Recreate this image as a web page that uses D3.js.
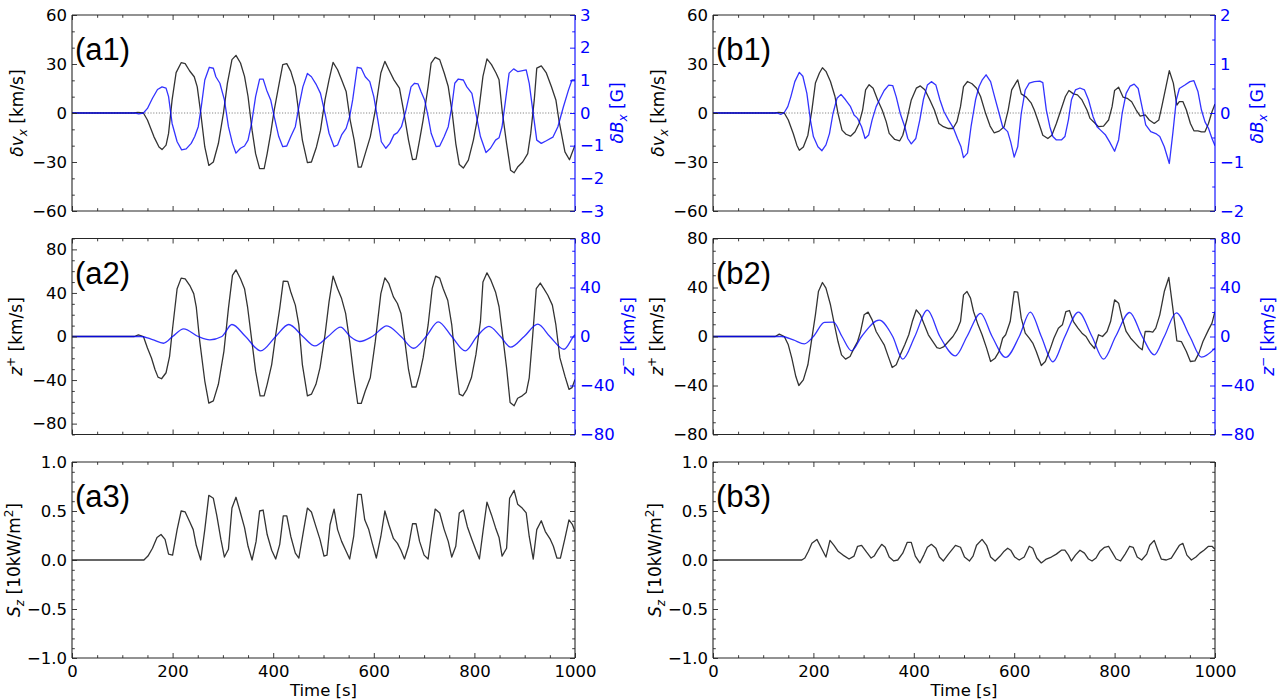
<!DOCTYPE html>
<html><head><meta charset="utf-8">
<script src="https://cdn.jsdelivr.net/npm/d3@7"></script>
<style>
html,body{margin:0;padding:0;background:#fff;}
svg{display:block;}
</style></head>
<body>
<svg id="chart" width="1280" height="700" font-family="DejaVu Sans, sans-serif"></svg>
<script>
// ---------------- DATA (time [s], value) ----------------
const xTicks = [0, 200, 400, 600, 800, 1000];

const a1_dvx = [[0,0],[123,0],[131,0.4],[142,0],[150,-4.3],[163,-14.6],[173,-20.8],[179,-22.4],[187,-19.7],[192,-12.5],[199,8.0],[207,24.7],[217,30.8],[225,30.2],[234,25.7],[243,22.2],[249,16.0],[256,-0.2],[264,-20.8],[272,-32.1],[281,-30.0],[291,-18.7],[301,-0.2],[309,18.3],[318,32.7],[326,35.3],[335,30.6],[343,22.4],[350,10.1],[358,-10.5],[365,-24.9],[373,-34.1],[382,-34.1],[388,-24.9],[395,-12.5],[402,1.8],[412,18.3],[419,29.6],[427,30.2],[435,25.5],[444,16.2],[451,-0.2],[458,-16.6],[468,-30.4],[476,-30.0],[486,-20.8],[494,-10.5],[503,8.0],[511,20.3],[519,31.0],[528,26.5],[536,20.3],[545,13.2],[553,-4.3],[561,-16.6],[569,-33.1],[575,-33.1],[583,-24.9],[593,-14.6],[603,1.8],[614,24.5],[622,31.6],[630,26.5],[640,20.3],[651,15.2],[659,1.8],[669,-16.6],[677,-28.6],[684,-28.2],[691,-16.6],[698,-4.3],[708,16.2],[714,30.6],[722,34.1],[731,32.7],[740,24.5],[748,16.2],[756,-0.2],[763,-18.7],[770,-31.6],[778,-33.7],[788,-28.9],[798,-16.6],[808,-0.2],[817,22.4],[825,33.1],[834,29.6],[843,24.5],[849,20.3],[855,1.8],[864,-18.7],[872,-35.1],[879,-36.6],[886,-33.1],[896,-30.0],[906,-24.9],[912,-12.5],[919,8.0],[924,27.5],[933,28.9],[943,24.5],[953,16.2],[962,8.0],[968,-4.3],[980,-23.8],[989,-28.6],[1000,-19.7]];

const a1_dBx = [[0,0],[125,0],[133,-0.03],[142,0],[150,0.14],[160,0.45],[170,0.72],[179,0.80],[187,0.76],[192,0.50],[199,-0.32],[209,-0.88],[218,-1.13],[227,-1.10],[237,-0.93],[244,-0.72],[251,-0.42],[257,0.19],[264,1.01],[273,1.40],[281,1.37],[286,1.11],[294,0.91],[303,0.40],[311,-0.42],[319,-0.93],[326,-1.23],[335,-1.08],[343,-1.01],[350,-0.83],[357,-0.32],[365,0.50],[373,1.04],[380,1.04],[387,0.70],[395,0.40],[402,-0.11],[411,-0.72],[419,-1.03],[427,-1.01],[435,-0.72],[444,-0.42],[451,0.19],[459,0.80],[468,1.21],[476,1.11],[486,0.86],[494,0.60],[503,-0.01],[511,-0.62],[521,-1.03],[528,-0.98],[536,-0.67],[545,-0.47],[552,-0.11],[558,0.40],[567,1.40],[575,1.37],[583,1.11],[592,0.96],[600,0.50],[608,-0.21],[615,-0.88],[624,-1.08],[632,-0.93],[640,-0.67],[647,-0.60],[655,-0.42],[664,0.09],[674,0.80],[681,0.91],[688,0.89],[694,0.65],[701,0.40],[708,-0.11],[714,-0.62],[724,-1.03],[731,-1.01],[740,-0.72],[748,-0.42],[755,0.19],[761,0.91],[768,1.04],[778,1.01],[785,0.80],[795,0.60],[803,-0.01],[812,-0.72],[823,-1.21],[832,-1.08],[842,-0.83],[849,-0.76],[855,-0.42],[862,0.40],[869,1.22],[878,1.35],[886,1.27],[896,1.30],[903,1.32],[909,0.91],[916,0.09],[924,-0.83],[933,-0.93],[943,-0.85],[956,-0.74],[966,-0.42],[977,0.19],[987,0.70],[994,1.01],[1000,1.01]];

const b1_dvx = [[0,0],[123,0],[131,0.4],[142,0],[150,-4.3],[160,-12.7],[167,-19.7],[172,-22.8],[180,-20.8],[189,-13.6],[197,1.8],[204,18.3],[212,24.5],[218,27.7],[225,25.5],[234,19.3],[243,10.1],[249,-0.2],[257,-10.5],[265,-13.0],[274,-14.2],[283,-11.5],[291,-6.4],[298,1.8],[304,14.2],[311,17.3],[319,15.2],[328,8.0],[337,1.8],[345,-5.3],[351,-12.5],[362,-16.2],[372,-17.0],[378,-13.6],[386,-4.3],[395,8.0],[405,15.2],[413,16.6],[422,14.2],[432,8.0],[441,1.8],[450,-6.4],[459,-8.4],[469,-9.5],[478,-9.5],[486,-5.3],[493,3.9],[499,16.2],[507,19.3],[516,17.9],[525,15.2],[533,10.1],[543,-0.2],[552,-8.0],[560,-12.1],[570,-11.1],[580,-8.4],[588,1.8],[595,14.2],[603,18.3],[607,20.3],[614,11.7],[624,9.7],[634,6.0],[640,1.8],[647,-4.3],[657,-13.6],[667,-15.6],[675,-13.6],[684,-6.4],[693,1.8],[702,10.1],[709,13.8],[718,11.7],[726,11.1],[735,8.0],[745,1.8],[751,-3.3],[760,-6.0],[768,-8.4],[778,-8.0],[788,-4.3],[795,3.9],[800,13.8],[808,15.8],[817,9.7],[825,9.0],[834,6.9],[843,1.8],[851,-1.9],[861,-1.2],[869,-4.3],[879,-6.4],[888,-4.3],[894,3.9],[901,14.2],[909,25.9],[917,18.3],[924,4.9],[929,7.0],[936,7.0],[943,1.8],[951,-6.4],[958,-10.9],[966,-10.9],[973,-11.5],[980,-11.5],[987,-6.4],[994,0.8],[1000,5.5]];

const b1_dBx = [[0,0],[128,0],[135,-0.03],[142,0.01],[149,0.13],[155,0.33],[163,0.64],[172,0.83],[179,0.75],[187,0.40],[194,-0.14],[200,-0.48],[209,-0.69],[217,-0.77],[225,-0.65],[232,-0.42],[239,-0.01],[247,0.30],[255,0.38],[264,0.27],[274,0.13],[281,-0.04],[288,-0.11],[296,-0.28],[303,-0.52],[310,-0.45],[317,-0.14],[325,0.13],[333,0.30],[341,0.46],[350,0.57],[358,0.56],[365,0.33],[373,-0.01],[382,-0.28],[388,-0.52],[395,-0.63],[404,-0.52],[412,-0.14],[419,0.27],[427,0.57],[435,0.64],[444,0.57],[452,0.27],[460,0.03],[469,-0.14],[479,-0.31],[487,-0.52],[494,-0.69],[499,-0.91],[507,-0.82],[514,-0.28],[523,0.27],[530,0.54],[536,0.67],[544,0.78],[553,0.64],[561,0.33],[570,-0.01],[577,-0.28],[587,-0.38],[593,-0.59],[600,-0.90],[607,-0.69],[614,-0.01],[622,0.47],[630,0.61],[640,0.64],[651,0.65],[657,0.62],[664,0.06],[671,-0.28],[677,-0.48],[684,-0.55],[694,-0.55],[701,-0.48],[708,-0.14],[714,0.27],[722,0.47],[731,0.51],[740,0.47],[748,0.27],[757,-0.07],[765,-0.28],[772,-0.35],[782,-0.45],[790,-0.59],[800,-0.78],[808,-0.55],[815,-0.01],[823,0.40],[831,0.55],[839,0.59],[847,0.50],[856,0.06],[862,-0.24],[872,-0.38],[882,-0.42],[890,-0.48],[899,-0.69],[909,-1.03],[916,-0.41],[923,0.27],[929,0.50],[940,0.57],[950,0.64],[958,0.66],[966,0.44],[973,0.06],[980,-0.18],[987,-0.31],[994,-0.52],[1000,-0.67]];

const a2_zp = [[0,0],[124,0],[132,1.5],[142,0],[150,-10.6],[158,-19.7],[165,-30.3],[171,-37.3],[178,-38.8],[187,-33.3],[194,-18.2],[200,7.6],[209,43.9],[217,53.6],[225,53.0],[234,47.0],[242,39.4],[247,27.3],[254,-4.5],[264,-40.9],[272,-61.2],[281,-59.1],[291,-43.9],[302,-13.6],[311,25.8],[319,56.1],[326,61.2],[335,53.0],[343,43.9],[349,27.3],[356,1.5],[365,-31.8],[374,-54.5],[382,-54.5],[388,-43.9],[397,-25.8],[405,1.5],[413,25.8],[420,50.9],[429,50.6],[435,40.9],[444,28.8],[451,10.6],[458,-25.8],[468,-54.5],[476,-53.0],[485,-43.9],[493,-28.8],[503,1.5],[511,31.8],[519,55.5],[528,43.9],[536,34.8],[544,21.2],[552,-4.5],[560,-34.8],[568,-61.5],[575,-61.5],[583,-50.0],[593,-37.9],[603,-4.5],[614,39.4],[622,53.9],[630,48.5],[639,36.4],[647,30.3],[654,21.2],[661,-1.5],[669,-30.3],[676,-46.4],[684,-46.4],[691,-34.8],[698,-19.7],[708,10.6],[716,43.9],[723,55.5],[731,53.6],[738,43.9],[747,33.3],[755,10.6],[763,-25.8],[770,-53.0],[777,-54.5],[785,-48.5],[794,-37.9],[803,-16.7],[812,13.6],[817,50.0],[825,58.5],[833,51.5],[842,40.9],[849,27.3],[856,1.5],[864,-28.8],[871,-60.6],[879,-63.6],[886,-56.7],[895,-54.5],[903,-51.5],[909,-37.9],[916,1.5],[923,43.9],[931,49.1],[938,43.9],[946,37.9],[955,28.8],[962,10.6],[970,-19.7],[980,-36.4],[988,-48.5],[994,-47.0],[1000,-39.4]];

const a2_zm = [[0,0],[137,0],[160,-2.5],[182,-5.5],[200,0],[222,6.3],[251,0],[274,-2.7],[298,0],[318,9.8],[345,0],[375,-11.7],[405,0],[431,9.8],[459,0],[483,-7.7],[509,0],[534,7.7],[553,0],[572,-4.1],[597,0],[626,8.7],[654,0],[679,-9.6],[704,0],[728,12.0],[755,0],[782,-11.7],[805,0],[829,8.2],[852,0],[872,-8.7],[899,0],[926,10.1],[950,0],[978,-10.4],[997,0],[1000,1.4]];

const b2_zp = [[0,0],[124,0],[132,1.9],[142,0],[150,-6.8],[157,-17.7],[165,-32.7],[171,-40.0],[180,-35.4],[189,-23.1],[197,-1.4],[204,17.7],[210,36.7],[218,44.1],[225,39.5],[234,25.9],[242,9.5],[249,-4.1],[256,-15.0],[264,-18.5],[273,-16.3],[281,-9.5],[288,-4.1],[294,4.1],[301,17.7],[309,19.9],[317,13.6],[325,4.1],[333,-1.4],[341,-6.8],[348,-15.0],[357,-25.3],[365,-23.1],[373,-15.0],[382,-6.8],[390,1.4],[397,12.2],[405,21.8],[413,17.7],[421,9.5],[429,1.4],[438,-4.1],[446,-9.0],[452,-9.8],[460,-8.2],[469,-4.1],[478,0],[486,5.4],[493,12.2],[499,34.0],[506,36.7],[513,31.3],[519,20.4],[528,9.5],[536,1.4],[545,-9.5],[553,-20.4],[562,-17.7],[570,-12.2],[577,-1.4],[583,1.4],[592,12.2],[600,36.7],[607,36.2],[614,15.0],[622,2.7],[630,-1.4],[637,-5.4],[644,-12.2],[654,-23.7],[662,-20.4],[671,-10.9],[679,-1.4],[688,6.8],[696,9.5],[703,20.4],[710,21.2],[718,12.2],[727,6.8],[735,2.7],[743,0],[751,-5.4],[760,-9.8],[768,1.4],[776,0],[785,4.1],[792,12.2],[800,29.9],[808,27.2],[815,15.0],[823,4.1],[832,-1.4],[841,-5.4],[849,-9.0],[855,-10.9],[861,4.1],[869,4.1],[876,3.5],[882,6.8],[890,17.7],[899,36.7],[908,48.2],[916,23.1],[924,-3.5],[933,-4.1],[943,-12.2],[951,-20.4],[960,-19.9],[968,-13.6],[976,-4.1],[987,5.4],[994,10.9],[1000,20.4]];

const b2_zm = [[0,0],[137,0],[160,-2.8],[182,-6.0],[200,0],[222,11.5],[240,11.7],[257,0],[276,-11.7],[296,0],[331,13.3],[358,0],[378,-18.5],[402,0],[427,21.5],[452,0],[483,-15.8],[506,0],[533,18.8],[556,0],[583,-17.1],[610,0],[632,19.9],[654,0],[677,-20.7],[701,0],[728,19.9],[755,0],[778,-18.5],[802,0],[830,19.6],[855,0],[879,-15.0],[899,0],[923,19.3],[950,0],[973,-16.9],[1000,-9.5]];

const a3_Sz = [[0,0],[143,0],[151,0.04],[160,0.12],[169,0.23],[177,0.26],[185,0.21],[192,0.06],[200,0.05],[209,0.31],[217,0.50],[225,0.49],[234,0.39],[241,0.31],[247,0.15],[256,0.0],[264,0.31],[272,0.66],[281,0.63],[288,0.45],[296,0.21],[303,0.03],[311,0.11],[318,0.53],[326,0.64],[335,0.48],[343,0.33],[350,0.14],[358,0.0],[366,0.19],[373,0.50],[380,0.51],[388,0.26],[397,0.10],[405,0.01],[413,0.16],[420,0.45],[427,0.45],[435,0.24],[444,0.07],[451,0.02],[459,0.26],[468,0.53],[476,0.49],[485,0.34],[493,0.21],[501,0.04],[507,0.05],[513,0.36],[521,0.52],[528,0.31],[536,0.19],[545,0.09],[552,0.01],[560,0.24],[568,0.67],[575,0.67],[582,0.41],[590,0.31],[597,0.17],[605,0.02],[614,0.24],[622,0.50],[630,0.36],[639,0.22],[647,0.17],[654,0.10],[661,0.01],[669,0.14],[677,0.37],[684,0.37],[691,0.19],[700,0.05],[708,0.01],[714,0.24],[722,0.52],[731,0.48],[740,0.31],[748,0.19],[755,0.03],[763,0.14],[770,0.48],[778,0.51],[786,0.34],[795,0.21],[803,0.10],[810,0.01],[817,0.29],[825,0.59],[834,0.46],[842,0.33],[849,0.23],[855,0.04],[864,0.12],[870,0.63],[879,0.71],[886,0.57],[895,0.53],[903,0.48],[909,0.24],[917,0.01],[924,0.31],[933,0.40],[941,0.29],[951,0.21],[957,0.14],[964,0.02],[971,0.02],[980,0.22],[988,0.41],[995,0.36],[1000,0.29]];

const b3_Sz = [[0,0],[177,0],[183,0.02],[190,0.09],[197,0.17],[207,0.21],[216,0.12],[225,0.03],[233,0.20],[241,0.15],[249,0.09],[259,0.05],[271,0.01],[281,0.04],[288,0.14],[296,0.15],[306,0.08],[315,0.02],[321,0.04],[328,0.10],[336,0.16],[343,0.13],[351,0.03],[360,-0.01],[368,0.0],[378,0.07],[387,0.18],[395,0.18],[403,0.04],[412,-0.03],[420,0.05],[427,0.13],[435,0.16],[444,0.12],[451,0.03],[459,-0.01],[469,0.06],[483,0.15],[493,0.13],[501,0.03],[511,-0.01],[518,0.04],[525,0.15],[536,0.21],[545,0.15],[553,0.03],[562,-0.01],[572,0.04],[580,0.09],[587,0.12],[593,0.10],[601,0.03],[610,0.0],[620,0.03],[630,0.14],[637,0.12],[645,0.02],[654,-0.03],[664,0.01],[674,0.03],[684,0.06],[694,0.10],[701,0.10],[708,0.05],[714,-0.01],[722,0.05],[731,0.10],[740,0.07],[748,0.01],[755,-0.01],[763,0.02],[771,0.09],[780,0.13],[788,0.14],[795,0.08],[803,0.01],[812,-0.01],[821,0.06],[830,0.14],[837,0.13],[845,0.03],[854,0.0],[864,0.06],[870,0.15],[879,0.20],[886,0.10],[893,0.01],[903,0.0],[913,0.02],[923,0.10],[929,0.15],[936,0.17],[944,0.05],[953,0.0],[962,0.03],[970,0.07],[978,0.10],[987,0.14],[994,0.14],[1000,0.11]];

// ---------------- LAYOUT ----------------
const BLUE = "#0000ff";
const colX = [[72, 575], [713, 1215]];
const rowY = [[15, 211], [238.5, 434.5], [462, 658]];

const panels = [
  {tag:"(a1)", col:0, row:0, zero:true,
   L:{data:a1_dvx, dom:[-60,60], ticks:[-60,-30,0,30,60], minor:10, fmt:"d", lab:"dv", labX:23},
   R:{data:a1_dBx, dom:[-3,3], ticks:[-3,-2,-1,0,1,2,3], minor:0.5, fmt:"d", lab:"dB", labX:623}},
  {tag:"(b1)", col:1, row:0, zero:true,
   L:{data:b1_dvx, dom:[-60,60], ticks:[-60,-30,0,30,60], minor:10, fmt:"d", lab:"dv", labX:664},
   R:{data:b1_dBx, dom:[-2,2], ticks:[-2,-1,0,1,2], minor:0.5, fmt:"d", lab:"dB", labX:1263}},
  {tag:"(a2)", col:0, row:1,
   L:{data:a2_zp, dom:[-90,90], ticks:[-80,-40,0,40,80], minor:10, fmt:"d", lab:"zp", labX:22},
   R:{data:a2_zm, dom:[-80,80], ticks:[-80,-40,0,40,80], minor:10, fmt:"d", lab:"zm", labX:634, smooth:true}},
  {tag:"(b2)", col:1, row:1,
   L:{data:b2_zp, dom:[-80,80], ticks:[-80,-40,0,40,80], minor:10, fmt:"d", lab:"zp", labX:663},
   R:{data:b2_zm, dom:[-80,80], ticks:[-80,-40,0,40,80], minor:10, fmt:"d", lab:"zm", labX:1274, smooth:true}},
  {tag:"(a3)", col:0, row:2, xlabels:true,
   L:{data:a3_Sz, dom:[-1,1], ticks:[-1,-0.5,0,0.5,1], minor:0.1, fmt:".1f", lab:"S", labX:20}},
  {tag:"(b3)", col:1, row:2, xlabels:true,
   L:{data:b3_Sz, dom:[-1,1], ticks:[-1,-0.5,0,0.5,1], minor:0.1, fmt:".1f", lab:"S", labX:661}}
];

const labels = {
  dv: [{t:"δv", i:1},{t:"x", i:1, sub:1},{t:" [km/s]"}],
  dB: [{t:"δB", i:1},{t:"x", i:1, sub:1},{t:" [G]"}],
  zp: [{t:"z", i:1},{t:"+", sup:1},{t:" [km/s]"}],
  zm: [{t:"z", i:1},{t:"−", sup:1},{t:" [km/s]"}],
  S:  [{t:"S", i:1},{t:"z", i:1, sub:1},{t:" [10kW/m"},{t:"2", sup:1},{t:"]"}]
};

const svg = d3.select("#chart");
const MAJ = 5, MIN = 2.8;
const spineColor = "#262626";
const FS = 16.5;

function fmtMinus(spec) {
  const f = d3.format(spec);
  return v => f(v).replace("-", "\u2212");
}

function minorVals(dom, step, majors) {
  const out = [];
  const n = Math.round((dom[1]-dom[0])/step);
  for (let k = 0; k <= n; k++) {
    const v = +(dom[0] + k*step).toFixed(6);
    if (!majors.some(m => Math.abs(m - v) < 1e-6)) out.push(v);
  }
  return out;
}

function drawLabel(g, parts, x, y, color) {
  const t = g.append("text")
    .attr("transform", `translate(${x},${y}) rotate(-90)`)
    .attr("text-anchor", "middle")
    .attr("font-size", 17)
    .attr("fill", color);
  let shift = 0;
  parts.forEach(p => {
    const ts = t.append("tspan").text(p.t);
    if (p.i) ts.attr("font-style", "italic");
    let target = 0, size = 17;
    if (p.sub) { target = 4; size = 12; }
    if (p.sup) { target = -7; size = 12; }
    ts.attr("font-size", size).attr("dy", target - shift);
    shift = target;
  });
}

panels.forEach((p, idx) => {
  const [x0, x1] = colX[p.col];
  const [y0, y1] = rowY[p.row];
  const g = svg.append("g");
  const x = d3.scaleLinear().domain([0, 1000]).range([x0, x1]);
  const yL = d3.scaleLinear().domain(p.L.dom).range([y1, y0]);
  const yR = p.R ? d3.scaleLinear().domain(p.R.dom).range([y1, y0]) : null;

  const clipId = "clip" + idx;
  svg.append("clipPath").attr("id", clipId).append("rect")
    .attr("x", x0).attr("y", y0).attr("width", x1-x0).attr("height", y1-y0);

  if (p.zero) {
    g.append("line").attr("x1", x0).attr("x2", x1).attr("y1", yL(0)).attr("y2", yL(0))
      .attr("stroke", "#888").attr("stroke-width", 1).attr("stroke-dasharray", "1.2,1.6");
  }

  const lineL = d3.line().x(d => x(d[0])).y(d => yL(d[1]));
  g.append("path").datum(p.L.data).attr("d", lineL)
    .attr("fill", "none").attr("stroke", "#000").attr("stroke-opacity", 0.8)
    .attr("stroke-width", 1.3).attr("stroke-linejoin", "round")
    .attr("clip-path", `url(#${clipId})`);
  if (p.R) {
    const lineR = d3.line().x(d => x(d[0])).y(d => yR(d[1]));
    if (p.R.smooth) lineR.curve(d3.curveMonotoneX);
    g.append("path").datum(p.R.data).attr("d", lineR)
      .attr("fill", "none").attr("stroke", BLUE).attr("stroke-opacity", 0.8)
      .attr("stroke-width", 1.3).attr("stroke-linejoin", "round")
      .attr("clip-path", `url(#${clipId})`);
  }

  const xMinor = minorVals([0, 1000], 50, xTicks);
  g.append("g").attr("transform", `translate(0,${y1})`)
    .call(d3.axisBottom(x).tickValues(xTicks).tickSizeInner(-MAJ).tickSizeOuter(0).tickPadding(7)
      .tickFormat(p.xlabels ? d3.format("d") : () => ""));
  g.append("g").attr("transform", `translate(0,${y1})`)
    .call(d3.axisBottom(x).tickValues(xMinor).tickSizeInner(-MIN).tickSizeOuter(0).tickFormat(() => ""));
  g.append("g").attr("transform", `translate(0,${y0})`)
    .call(d3.axisTop(x).tickValues(xTicks).tickSizeInner(-MAJ).tickSizeOuter(0).tickFormat(() => ""));
  g.append("g").attr("transform", `translate(0,${y0})`)
    .call(d3.axisTop(x).tickValues(xMinor).tickSizeInner(-MIN).tickSizeOuter(0).tickFormat(() => ""));

  const lMinor = minorVals(p.L.dom, p.L.minor, p.L.ticks);
  g.append("g").attr("transform", `translate(${x0},0)`)
    .call(d3.axisLeft(yL).tickValues(p.L.ticks).tickSizeInner(-MAJ).tickSizeOuter(0).tickPadding(5)
      .tickFormat(fmtMinus(p.L.fmt)));
  g.append("g").attr("transform", `translate(${x0},0)`)
    .call(d3.axisLeft(yL).tickValues(lMinor).tickSizeInner(-MIN).tickSizeOuter(0).tickFormat(() => ""));

  if (p.R) {
    const rMinor = minorVals(p.R.dom, p.R.minor, p.R.ticks);
    g.append("g").attr("class", "blue").attr("transform", `translate(${x1},0)`)
      .call(d3.axisRight(yR).tickValues(p.R.ticks).tickSizeInner(-MAJ).tickSizeOuter(0).tickPadding(5)
        .tickFormat(fmtMinus(p.R.fmt)));
    g.append("g").attr("class", "blue").attr("transform", `translate(${x1},0)`)
      .call(d3.axisRight(yR).tickValues(rMinor).tickSizeInner(-MIN).tickSizeOuter(0).tickFormat(() => ""));
  } else {
    const rMinor = minorVals(p.L.dom, p.L.minor, p.L.ticks);
    g.append("g").attr("transform", `translate(${x1},0)`)
      .call(d3.axisRight(yL).tickValues(p.L.ticks).tickSizeInner(-MAJ).tickSizeOuter(0).tickFormat(() => ""));
    g.append("g").attr("transform", `translate(${x1},0)`)
      .call(d3.axisRight(yL).tickValues(rMinor).tickSizeInner(-MIN).tickSizeOuter(0).tickFormat(() => ""));
  }

  g.selectAll(".domain").remove();
  g.selectAll("g").attr("font-family", null).attr("font-size", null);
  g.selectAll(".tick line").attr("stroke", spineColor).attr("stroke-width", 0.9);
  g.selectAll(".tick text").attr("font-size", FS).attr("fill", "#000");
  g.selectAll("g.blue .tick line").attr("stroke", BLUE);
  g.selectAll("g.blue .tick text").attr("fill", BLUE);

  const spine = (a, b, c, d, col) => g.append("line").attr("x1", a).attr("y1", b).attr("x2", c).attr("y2", d)
    .attr("stroke", col).attr("stroke-width", 1.1);
  spine(x0, y0, x1, y0, spineColor);
  spine(x0, y1, x1, y1, spineColor);
  spine(x0, y0, x0, y1, spineColor);
  spine(x1, y0, x1, y1, p.R ? BLUE : spineColor);

  g.append("text").attr("x", x0 + 3).attr("y", y0 + 45)
    .style("font-family", "'Liberation Sans', Arial, sans-serif").attr("font-size", 31)
    .attr("fill", "#000").text(p.tag);

  const ymid = (y0 + y1) / 2;
  drawLabel(g, labels[p.L.lab], p.L.labX, ymid, "#000");
  if (p.R) drawLabel(g, labels[p.R.lab], p.R.labX, ymid, BLUE);

  if (p.xlabels) {
    g.append("text").attr("x", (x0 + x1) / 2).attr("y", 696)
      .attr("text-anchor", "middle").attr("font-size", FS).attr("fill", "#000").text("Time [s]");
  }
});
</script>
</body></html>
